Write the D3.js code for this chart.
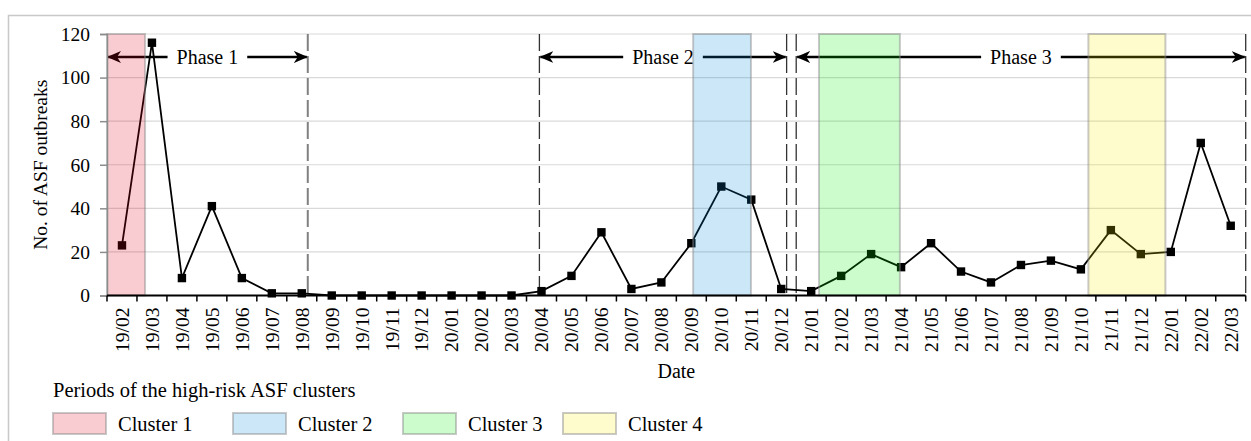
<!DOCTYPE html>
<html lang="en">
  <head>
    <meta charset="utf-8">
    <title>ASF outbreaks</title>
    <style>
      body { margin: 0; background: #fff; }
      svg { display: block; font-family: "Liberation Serif", "Times New Roman", serif; }
    </style>
    <script src="https://d3js.org/d3.v7.min.js"></script>
  </head>
  <body>
    <div class="chart"></div>
    <script>
    const months = ["19/02","19/03","19/04","19/05","19/06","19/07","19/08","19/09","19/10","19/11","19/12",
      "20/01","20/02","20/03","20/04","20/05","20/06","20/07","20/08","20/09","20/10","20/11","20/12",
      "21/01","21/02","21/03","21/04","21/05","21/06","21/07","21/08","21/09","21/10","21/11","21/12",
      "22/01","22/02","22/03"]
    const outbreaks = [23,116,8,41,8,1,1,0,0,0,0,0,0,0,2,9,29,3,6,24,50,44,3,2,9,19,13,24,11,6,14,16,12,30,19,20,70,32]
    const yTicks = [0,20,40,60,80,100,120]

    // cluster periods, in months counted from the start of 19/02
    const clusterNames = ["Cluster 1","Cluster 2","Cluster 3","Cluster 4"]
    const clusterStart = [0, 19.56, 23.76, 32.75]
    const clusterEnd = [1.27, 21.49, 26.46, 35.32]
    const clusterColors = ["#dc0014","#008cdc","#00f000","#faeb00"]

    const phaseNames = ["Phase 1","Phase 2","Phase 3"]
    const phaseStart = [0, 14.43, 23.0]
    const phaseEnd = [6.7, 22.68, 38]

    const margin = { top: 34, left: 107, right: 5.3, bottom: 145.5 },
      W = 1251, H = 441,
      width = W - margin.left - margin.right,
      height = H - margin.top - margin.bottom

    const svg = d3.select(".chart").append("svg")
      .attr("width", W).attr("height", H)

    svg.append("rect")
      .attr("x", 8.5).attr("y", 15.5)
      .attr("width", W).attr("height", H)
      .attr("fill", "none").attr("stroke", "#c8c8c8").attr("stroke-width", 1.5)

    const defs = svg.append("defs")
    defs.append("marker")
      .attr("id", "arrow")
      .attr("viewBox", "0 -6 14 12")
      .attr("refX", 13).attr("refY", 0)
      .attr("markerWidth", 14).attr("markerHeight", 12)
      .attr("markerUnits", "userSpaceOnUse")
      .attr("orient", "auto-start-reverse")
      .append("path")
      .attr("d", "M0,-6 L14,0 L0,6 L4,0 Z")
      .attr("fill", "#000")

    const g = svg.append("g").attr("transform", `translate(${margin.left},${margin.top})`)

    const x = d3.scaleBand().domain(months).range([0, width]).padding(0)
    const xm = d3.scaleLinear().domain([0, months.length]).range([0, width])
    const y = d3.scaleLinear().domain([0, 120]).range([height, 0])

    // gridlines
    g.append("g").selectAll("line")
      .data(yTicks.filter(d => d > 0))
      .join("line")
      .attr("x1", 0).attr("x2", width)
      .attr("y1", d => y(d)).attr("y2", d => y(d))
      .attr("stroke", "#d9d9d9").attr("stroke-width", 1.2)

    // phase dividers
    const dividers = [phaseEnd[0], phaseStart[1], phaseEnd[1], phaseStart[2], phaseEnd[2]]
    g.append("g").selectAll("line")
      .data(dividers)
      .join("line")
      .attr("x1", d => xm(d)).attr("x2", d => xm(d))
      .attr("y1", 0).attr("y2", height)
      .attr("stroke", (d, i) => i == 0 ? "#808080" : "#333")
      .attr("stroke-width", (d, i) => i == 0 ? 2 : 1.3)
      .attr("stroke-dasharray", "17,5")

    // phase arrows
    const phaseY = 23
    phaseNames.forEach((name, i) => {
      const x0 = xm(phaseStart[i]), x1 = xm(phaseEnd[i]), mid = (x0 + x1) / 2
      const t = g.append("text")
        .attr("x", mid).attr("y", phaseY)
        .attr("dy", "0.35em")
        .attr("text-anchor", "middle")
        .style("font-size", "20px")
        .text(name)
      const half = t.node().getComputedTextLength() / 2 + 9
      g.append("line")
        .attr("x1", mid - half).attr("x2", x0 + 1)
        .attr("y1", phaseY).attr("y2", phaseY)
        .attr("stroke", "#000").attr("stroke-width", 2.5)
        .attr("marker-end", "url(#arrow)")
      g.append("line")
        .attr("x1", mid + half).attr("x2", x1 - 1)
        .attr("y1", phaseY).attr("y2", phaseY)
        .attr("stroke", "#000").attr("stroke-width", 2.5)
        .attr("marker-end", "url(#arrow)")
    })

    // data line
    const pts = months.map((m, i) => [x(m) + x.bandwidth() / 2, y(outbreaks[i])])
    g.append("path")
      .attr("d", d3.line()(pts))
      .attr("fill", "none").attr("stroke", "#000").attr("stroke-width", 1.8)

    g.append("g").selectAll("rect")
      .data(pts)
      .join("rect")
      .attr("x", d => d[0] - 4.2).attr("y", d => d[1] - 4.2)
      .attr("width", 8.4).attr("height", 8.4)
      .attr("fill", "#000")

    // cluster overlays
    g.append("g").selectAll("rect")
      .data(clusterNames)
      .join("rect")
      .attr("x", (d, i) => xm(clusterStart[i]))
      .attr("y", 0)
      .attr("width", (d, i) => xm(clusterEnd[i]) - xm(clusterStart[i]))
      .attr("height", height)
      .attr("fill", (d, i) => clusterColors[i])
      .attr("fill-opacity", 0.2)
      .attr("stroke", "#888").attr("stroke-opacity", 0.45).attr("stroke-width", 2)

    // y axis
    const yAxis = g.append("g")
      .call(d3.axisLeft(y).tickValues(yTicks).tickSize(7).tickPadding(10))
    yAxis.select(".domain").attr("stroke", "#8c8c8c").attr("stroke-width", 1.5)
    yAxis.selectAll(".tick line").attr("stroke", "#8c8c8c").attr("stroke-width", 1.5)
    yAxis.selectAll(".tick text")
      .style("font-size", "19.5px").style("font-family", "Liberation Serif").attr("fill", "#000")

    // x axis
    const xAxis = g.append("g").attr("transform", `translate(0,${height})`)
    xAxis.append("line")
      .attr("x1", 0).attr("x2", width)
      .attr("stroke", "#000").attr("stroke-width", 1.8)
    xAxis.selectAll(".xt")
      .data(d3.range(months.length + 1))
      .join("line")
      .attr("x1", d => xm(d)).attr("x2", d => xm(d))
      .attr("y1", 0).attr("y2", 6)
      .attr("stroke", "#000").attr("stroke-width", 1.5)
    xAxis.selectAll("text")
      .data(months)
      .join("text")
      .attr("transform", d => `translate(${x(d) + x.bandwidth() / 2},12) rotate(-90)`)
      .attr("dy", "0.35em")
      .attr("text-anchor", "end")
      .style("font-size", "19.5px")
      .text(d => d)

    g.append("text")
      .attr("x", width / 2).attr("y", 378 - margin.top)
      .attr("text-anchor", "middle")
      .style("font-size", "20px")
      .text("Date")

    svg.append("text")
      .attr("transform", `translate(47,${margin.top + height / 2}) rotate(-90)`)
      .attr("text-anchor", "middle")
      .style("font-size", "19.5px")
      .text("No. of  ASF outbreaks")

    // legend
    svg.append("text")
      .attr("x", 53).attr("y", 397)
      .style("font-size", "20.5px")
      .text("Periods of the high-risk ASF clusters")

    const legendX = [53, 233, 403, 563]
    clusterNames.forEach((name, i) => {
      svg.append("rect")
        .attr("x", legendX[i]).attr("y", 413)
        .attr("width", 53).attr("height", 21)
        .attr("fill", clusterColors[i]).attr("fill-opacity", 0.2)
        .attr("stroke", "#888").attr("stroke-opacity", 0.45).attr("stroke-width", 2)
      svg.append("text")
        .attr("x", legendX[i] + 65).attr("y", 431)
        .style("font-size", "20.5px")
        .text(name)
    })
    </script>
  </body>
</html>
